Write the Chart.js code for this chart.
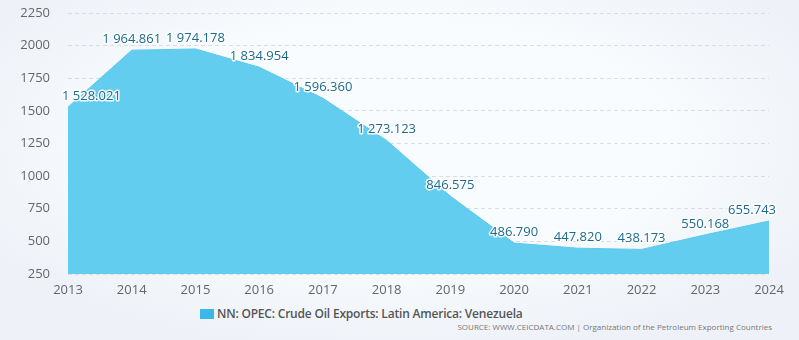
<!DOCTYPE html>
<html><head><meta charset="utf-8">
<script src="https://cdn.jsdelivr.net/npm/chart.js@4.4.1/dist/chart.umd.min.js"></script>
<style>
html,body{margin:0;padding:0;}
body{width:799px;height:340px;overflow:hidden;position:relative;font-family:"Open Sans",sans-serif;
background:radial-gradient(ellipse 60% 62% at 50% 42%, #f8fcfe 55%, #eef2f8 100%);}
#wrap{position:absolute;left:0;top:0;width:799px;height:300px;}
#legend{position:absolute;left:200px;top:305px;font-size:12px;color:#555;font-weight:600;white-space:nowrap;display:flex;align-items:center;letter-spacing:-0.2px;}
#legend span.box{display:inline-block;width:14px;height:10px;background:#3cb8e8;margin-right:3px;}
#source{position:absolute;right:27px;top:321px;font-size:8px;color:#777;white-space:nowrap;}
</style></head>
<body>
<div id="wrap"><canvas id="c" width="799" height="300"></canvas></div>
<div id="legend"><span class="box"></span><span id="ltext"></span></div>
<div id="source">SOURCE: WWW.CEICDATA.COM | Organization of the Petroleum Exporting Countries</div>
<script>
const categories = ["2013","2014","2015","2016","2017","2018","2019","2020","2021","2022","2023","2024"];
const values = [1528.021,1964.861,1974.178,1834.954,1596.360,1273.123,846.575,486.790,447.820,438.173,550.168,655.743];
const yTicks = [250,500,750,1000,1250,1500,1750,2000,2250];
const seriesName = "NN: OPEC: Crude Oil Exports: Latin America: Venezuela";
document.getElementById('ltext').textContent = seriesName;

function fmt(v){
  const s = v.toFixed(3);
  const [i,d] = s.split('.');
  return i.replace(/\B(?=(\d{3})+(?!\d))/g,' ') + '.' + d;
}

const labelPlugin = {
  id:'vlabels',
  afterDatasetsDraw(chart){
    const ctx = chart.ctx, meta = chart.getDatasetMeta(0), area = chart.chartArea;
    ctx.save();
    ctx.font = '13px "Open Sans", sans-serif';
    ctx.textBaseline = 'middle';
    ctx.lineJoin = 'round';
    meta.data.forEach((pt,i)=>{
      const t = fmt(values[i]);
      const w = ctx.measureText(t).width;
      let x = pt.x - w/2;
      if (x < area.left - 6) x = area.left - 6;
      if (x + w > area.right + 7) x = area.right + 7 - w;
      const y = pt.y - 11;
      ctx.strokeStyle = 'rgba(255,255,255,0.9)';
      ctx.lineWidth = 3;
      ctx.strokeText(t, x, y);
      ctx.fillStyle = '#1d6a90';
      ctx.fillText(t, x, y);
    });
    ctx.restore();
  }
};

new Chart(document.getElementById('c'), {
  type:'line',
  data:{labels:categories, datasets:[{data:values, fill:'start', backgroundColor:'#62cdee', borderColor:'#5cc8ea', borderWidth:1, pointRadius:0, tension:0}]},
  options:{
    responsive:false, animation:false,
    layout:{padding:{left:8,right:30,top:13,bottom:0}},
    plugins:{legend:{display:false}, tooltip:{enabled:false}},
    scales:{
      x:{type:'category', offset:false,
         grid:{display:false}, border:{display:false},
         ticks:{color:'#666', font:{size:13, family:'"Open Sans", sans-serif'}, padding:0, maxRotation:0, autoSkip:false},
         afterFit(s){ s.height = 26; s.paddingLeft = 0; s.paddingRight = 0; }
      },
      y:{min:250,max:2250,
         afterBuildTicks(s){ s.ticks = yTicks.map(v=>({value:v})); },
         grid:{color:'#d9dee5', tickLength:8, tickColor:'rgba(0,0,0,0)'}, border:{display:false, dash:[4,3]},
         ticks:{color:'#666', font:{size:13, family:'"Open Sans", sans-serif'}, padding:10, callback:v=>String(v)},
         afterFit(s){ s.width = 60; s.paddingTop = 0; s.paddingBottom = 0; }
      }
    }
  },
  plugins:[labelPlugin]
});
</script>
</body></html>
